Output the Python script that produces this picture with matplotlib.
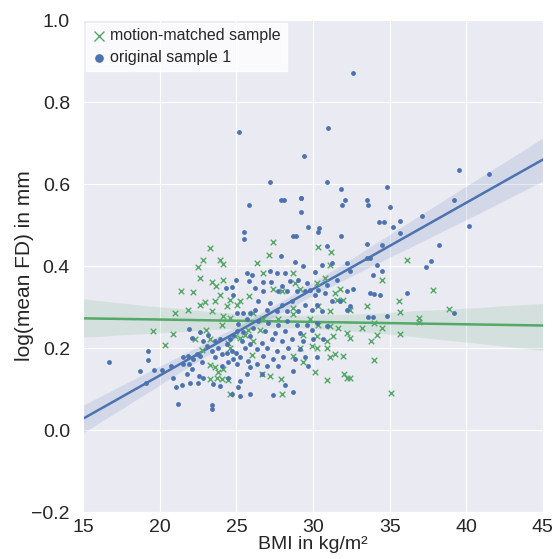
"""BMI vs log(mean FD): original sample against motion-matched sample."""

import matplotlib

matplotlib.use("Agg")
import matplotlib.pyplot as plt
import numpy as np
import seaborn as sns

# original sample 1 (blue dots)
orig_bmi = [
    # sparse / outer points
    16.7, 19.2, 19.2, 18.7, 19.1, 23.4,
    25.8, 27.9, 28.1, 29.2, 29.2, 29.7, 30.4, 30.3, 28.7, 28.9,
    25.5, 25.5, 31.8, 31.9, 32.1, 27.9, 30.9, 26.0, 25.7, 25.0,
    25.8, 26.2, 24.8, 24.7, 24.3,
    26.7, 27.4, 28.2, 28.7, 28.7,
    32.6, 39.5, 41.5, 34.8, 33.5, 33.6, 35.0, 39.2, 37.1, 34.3,
    34.6, 35.7, 35.2, 35.7, 40.2,
    33.5, 34.5, 38.2, 33.5, 33.7, 34.2, 37.7, 37.4, 34.5, 33.9,
    36.1, 33.7, 34.0, 34.4, 33.6, 33.9, 34.8, 39.2,
    25.2, 31.0, 29.4, 27.2, 30.9, 31.8, 29.2,
    # dense lower-left cluster
    25.07, 25.46, 25.89, 25.68, 25.13, 25.46, 25.89, 26.11, 21.93, 22.63,
    23.17, 24.80, 25.03, 22.09, 22.85, 23.61, 23.94, 24.59, 25.35, 25.89,
    24.37, 23.07, 25.57, 23.39, 23.83, 24.37, 24.70, 24.98, 24.05, 22.42,
    22.63, 21.54, 21.87, 25.24, 22.20, 21.54, 21.93, 22.74, 23.61, 24.80,
    24.48, 24.05, 25.03, 25.78, 25.89, 20.72, 19.63, 20.13, 22.09, 21.76,
    22.59, 22.85, 20.89, 25.68, 25.24, 24.48, 22.52, 21.98, 23.50, 25.13,
    21.07, 21.44, 23.94, 24.70, 25.24, 25.89, 21.22, 23.40,
    # dense centre cluster
    27.19, 27.67, 28.17, 28.82, 29.37, 30.13, 30.56, 31.22, 32.19, 32.41,
    26.76, 27.24, 27.96, 28.50, 29.04, 29.59, 29.80, 30.35, 30.89, 31.59,
    26.76, 27.74, 28.28, 28.93, 29.48, 30.13, 30.78, 32.19, 32.63,
    26.43, 27.19, 27.96, 28.61, 29.48, 30.24, 31.22, 31.76, 32.41,
    26.22, 26.98, 27.63, 28.28, 29.04, 29.91, 30.56, 32.19,
    26.43, 27.09, 27.74, 28.28, 28.93, 29.59, 30.24, 30.89,
    26.87, 27.52, 28.17, 29.15, 29.91,
    26.65, 27.30, 27.96, 28.61, 29.37, 30.02, 30.67,
    26.32, 26.98, 27.63, 28.39, 29.15,
    26.76, 27.41, 28.06, 28.82, 29.48, 30.24,
    26.32, 26.98, 27.74, 29.70,
]
orig_fd = [
    0.165, 0.194, 0.172, 0.145, 0.116, 0.051,
    0.550, 0.560, 0.560, 0.565, 0.531, 0.495, 0.492, 0.482, 0.473, 0.473,
    0.482, 0.465, 0.473, 0.548, 0.562, 0.424, 0.448, 0.378, 0.383, 0.366,
    0.364, 0.347, 0.330, 0.349, 0.347,
    0.136, 0.085, 0.109, 0.092, 0.145,
    0.870, 0.635, 0.625, 0.594, 0.562, 0.548, 0.545, 0.562, 0.521, 0.507,
    0.507, 0.509, 0.495, 0.480, 0.499,
    0.453, 0.451, 0.451, 0.419, 0.419, 0.402, 0.412, 0.398, 0.388, 0.378,
    0.335, 0.335, 0.332, 0.330, 0.276, 0.276, 0.279, 0.286,
    0.727, 0.737, 0.669, 0.604, 0.604, 0.587, 0.567,
    0.286, 0.286, 0.286, 0.270, 0.258, 0.238, 0.230, 0.250, 0.246, 0.238,
    0.233, 0.233, 0.242, 0.225, 0.217, 0.217, 0.221, 0.221, 0.217, 0.209,
    0.209, 0.205, 0.201, 0.193, 0.201, 0.189, 0.193, 0.189, 0.185, 0.185,
    0.181, 0.179, 0.181, 0.177, 0.173, 0.162, 0.161, 0.165, 0.177, 0.173,
    0.165, 0.157, 0.161, 0.169, 0.153, 0.157, 0.146, 0.146, 0.149, 0.136,
    0.133, 0.128, 0.128, 0.136, 0.120, 0.128, 0.116, 0.114, 0.112, 0.104,
    0.104, 0.111, 0.108, 0.088, 0.084, 0.088, 0.064, 0.060,
    0.387, 0.383, 0.383, 0.410, 0.399, 0.385, 0.403, 0.407, 0.407, 0.387,
    0.361, 0.361, 0.351, 0.363, 0.367, 0.359, 0.342, 0.342, 0.353, 0.367,
    0.339, 0.339, 0.339, 0.339, 0.339, 0.330, 0.334, 0.339, 0.343,
    0.316, 0.310, 0.306, 0.316, 0.306, 0.306, 0.314, 0.314, 0.302,
    0.294, 0.294, 0.290, 0.290, 0.290, 0.294, 0.290, 0.294,
    0.265, 0.261, 0.257, 0.265, 0.257, 0.257, 0.261, 0.253,
    0.241, 0.237, 0.241, 0.237, 0.245,
    0.213, 0.221, 0.217, 0.221, 0.217, 0.221, 0.221,
    0.197, 0.201, 0.193, 0.201, 0.197,
    0.181, 0.173, 0.177, 0.173, 0.177, 0.177,
    0.161, 0.157, 0.157, 0.157,
]

# motion-matched sample (green crosses)
matched_bmi = [
    23.3, 22.8, 23.9, 24.1, 22.5, 22.6, 23.4, 23.7, 24.1, 21.4,
    22.2, 23.9,
    27.4, 30.3, 31.2, 27.1, 25.8,
    26.7, 27.2, 27.9, 28.0, 30.1, 30.9, 32.0, 32.2,
    36.1, 34.5, 37.8, 35.6, 35.7, 38.9, 36.9, 36.9, 33.5, 34.0,
    34.5, 34.2, 33.2, 35.7, 33.8, 34.0, 32.4, 35.1,
    22.96, 23.61, 24.59, 22.63, 23.41, 21.85, 21.00, 24.39, 25.05, 25.24,
    19.57, 20.87, 20.35, 23.02, 23.28, 22.76, 22.31, 24.13, 24.07, 24.59,
    24.92, 25.24, 25.57, 25.76, 26.09, 24.46, 26.09, 24.59, 23.28, 23.61,
    23.81, 24.13, 24.07, 24.46, 23.74, 24.59, 23.28, 26.02,
    26.32, 26.76, 28.72, 28.82, 27.41, 27.96, 29.15, 30.24, 30.78, 31.11,
    31.43, 31.76, 28.72, 30.35, 31.54, 31.98, 31.11, 32.41, 26.76, 27.74,
    28.72, 29.80, 30.35, 31.11, 31.65, 32.19, 32.41, 29.37, 30.24, 30.89,
    31.33, 26.54, 29.15, 29.91, 30.24, 30.89, 31.43, 31.98, 28.72, 29.37,
    31.11,
]
matched_fd = [
    0.444, 0.415, 0.415, 0.405, 0.398, 0.371, 0.361, 0.352, 0.366, 0.339,
    0.337, 0.330,
    0.458, 0.446, 0.434, 0.427, 0.327,
    0.136, 0.133, 0.124, 0.087, 0.141, 0.121, 0.136, 0.128,
    0.415, 0.366, 0.342, 0.315, 0.288, 0.296, 0.274, 0.264, 0.303, 0.262,
    0.250, 0.233, 0.250, 0.235, 0.218, 0.172, 0.126, 0.090,
    0.313, 0.315, 0.318, 0.305, 0.291, 0.293, 0.286, 0.303, 0.305, 0.315,
    0.242, 0.235, 0.208, 0.245, 0.223, 0.196, 0.221, 0.279, 0.257, 0.274,
    0.230, 0.225, 0.233, 0.245, 0.218, 0.213, 0.286, 0.201, 0.158, 0.153,
    0.141, 0.148, 0.124, 0.121, 0.128, 0.087, 0.124, 0.184,
    0.407, 0.383, 0.383, 0.359, 0.343, 0.339, 0.343, 0.359, 0.371, 0.403,
    0.335, 0.343, 0.298, 0.302, 0.318, 0.318, 0.290, 0.294, 0.270, 0.270,
    0.282, 0.270, 0.257, 0.253, 0.249, 0.237, 0.225, 0.233, 0.229, 0.217,
    0.229, 0.245, 0.201, 0.205, 0.201, 0.201, 0.185, 0.181, 0.181, 0.165,
    0.177,
]

BLUE = "#4C72B0"
GREEN = "#55A868"

sns.set_style("darkgrid")
plt.rcParams["font.family"] = ["Liberation Sans", "DejaVu Sans"]

fig, ax = plt.subplots(figsize=(5.58, 5.59), dpi=100)
fig.subplots_adjust(left=0.149, right=0.973, bottom=0.084, top=0.964)

ax.set_xlim(15, 45)
ax.set_ylim(-0.2, 1.0)

ax.scatter(matched_bmi, matched_fd, marker="x", s=16, linewidths=1.0,
           color=GREEN, label="motion-matched sample", zorder=3)
ax.scatter(orig_bmi, orig_fd, marker="o", s=12, linewidths=0,
           color=BLUE, label="original sample 1", zorder=3)

# regression lines with 95% bands, fitted on the same points
sns.regplot(x=np.array(matched_bmi), y=np.array(matched_fd), ax=ax,
            scatter=False, truncate=False, color=GREEN, seed=0,
            line_kws={"lw": 1.8})
sns.regplot(x=np.array(orig_bmi), y=np.array(orig_fd), ax=ax,
            scatter=False, truncate=False, color=BLUE, seed=0,
            line_kws={"lw": 1.8})

ax.set_xlim(15, 45)
ax.set_ylim(-0.2, 1.0)
ax.set_xticks(np.arange(15, 46, 5))
ax.set_yticks(np.arange(-0.2, 1.01, 0.2))
ax.tick_params(labelsize=14)
ax.tick_params(axis="x", pad=1.5)
ax.tick_params(axis="y", pad=6)
ax.set_xlabel("BMI in kg/m²", fontsize=14, labelpad=0)
ax.set_ylabel("log(mean FD) in mm", fontsize=15, labelpad=-1.5)

leg = ax.legend(loc="upper left", frameon=True, fontsize=11.5, markerscale=1.8,
                borderaxespad=0.15, handletextpad=0.2, borderpad=0.35,
                labelspacing=0.45, handlelength=1.0, fancybox=False)
leg.get_frame().set_facecolor("white")
leg.get_frame().set_edgecolor("white")

fig.savefig("out.png", dpi=100)
